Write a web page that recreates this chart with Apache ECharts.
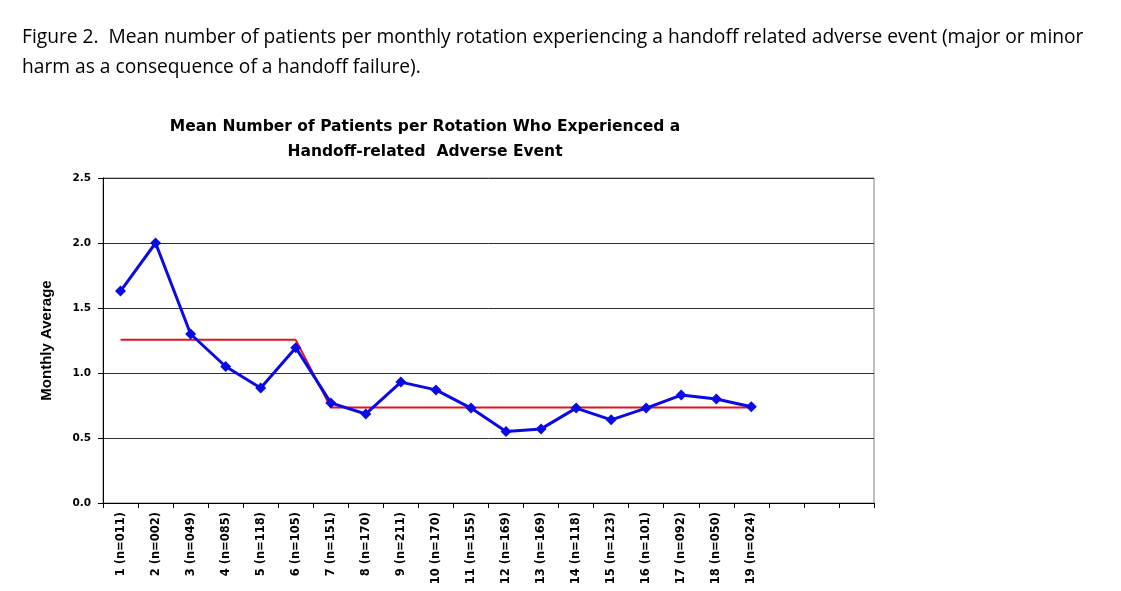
<!DOCTYPE html>
<html><head><meta charset="utf-8">
<script src="https://cdn.jsdelivr.net/npm/echarts@6/dist/echarts.min.js"></script>
<style>html,body{margin:0;padding:0;background:#fff;}#c{width:1121px;height:591px;}</style>
</head><body><div id="c"></div>
<script>
var categories = ["1 (n=011)","2 (n=002)","3 (n=049)","4 (n=085)","5 (n=118)","6 (n=105)","7 (n=151)","8 (n=170)","9 (n=211)","10 (n=170)","11 (n=155)","12 (n=169)","13 (n=169)","14 (n=118)","15 (n=123)","16 (n=101)","17 (n=092)","18 (n=050)","19 (n=024)","","",""];
var monthlyAverage = [1.63,2.00,1.30,1.05,0.885,1.195,0.77,0.685,0.93,0.87,0.73,0.55,0.57,0.73,0.64,0.73,0.83,0.80,0.74];
var phaseMean = [1.255,1.255,1.255,1.255,1.255,1.255,0.735,0.735,0.735,0.735,0.735,0.735,0.735,0.735,0.735,0.735,0.735,0.735,0.735];
var yTicks = [0,0.5,1.0,1.5,2.0,2.5];

var chart = echarts.init(document.getElementById('c'));
chart.setOption({
  animation:false,
  backgroundColor:'#fff',
  title:[
    {text:'Figure 2.  Mean number of patients per monthly rotation experiencing a handoff related adverse event (major or minor\nharm as a consequence of a handoff failure).',
     left:17, top:18, textStyle:{fontFamily:'Open Sans', fontWeight:'normal', fontSize:19.2, color:'#000', lineHeight:30}},
    {text:'Mean Number of Patients per Rotation Who Experienced a\nHandoff-related  Adverse Event',
     left:420, top:109, textAlign:'center', textStyle:{fontFamily:'DejaVu Sans', fontWeight:'bold', fontSize:15.5, color:'#000', lineHeight:25}}
  ],
  grid:{left:103, top:178, right:247, bottom:88, show:true, borderColor:'#808080', borderWidth:1},
  xAxis:{type:'category', data:categories, boundaryGap:true,
    axisLine:{lineStyle:{color:'#000', width:1}},
    axisTick:{show:true, interval:0, length:5, lineStyle:{color:'#000'}},
    axisLabel:{interval:0, rotate:90, margin:9, fontFamily:'DejaVu Sans', fontWeight:'bold', fontSize:11.5, color:'#000'}},
  yAxis:{type:'value', min:0, max:2.5, interval:0.5,
    name:'Monthly Average', nameLocation:'middle', nameGap:49, nameRotate:90,
    nameTextStyle:{fontFamily:'Liberation Sans', fontWeight:'bold', fontSize:15, color:'#000'},
    axisLine:{show:true, lineStyle:{color:'#000', width:1}},
    axisTick:{show:true, length:5, lineStyle:{color:'#000'}},
    axisLabel:{margin:12, fontFamily:'DejaVu Sans', fontWeight:'bold', fontSize:10.5, color:'#000',
      formatter:function(v){return yTicks.indexOf(v)>=0 ? v.toFixed(1) : '';}},
    splitLine:{show:true, lineStyle:{color:'#303030', width:1}}},
  series:[
    {type:'line', data:phaseMean, symbol:'none', lineStyle:{color:'#e0141e', width:2}, z:2},
    {type:'line', data:monthlyAverage, symbol:'diamond', symbolSize:11,
      itemStyle:{color:'#0a0ae6'}, lineStyle:{color:'#0a0ae6', width:3}, z:3}
  ]
});
</script></body></html>
